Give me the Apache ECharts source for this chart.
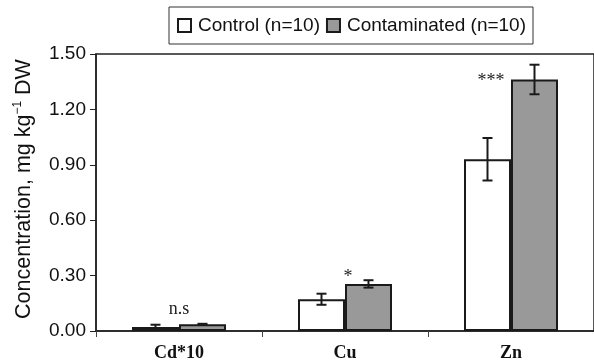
<!DOCTYPE html>
<html>
<head>
<meta charset="utf-8">
<script src="https://cdn.jsdelivr.net/npm/echarts@6/dist/echarts.min.js"></script>
<style>
  html, body { margin: 0; padding: 0; background: #fff; }
  #chart { width: 594px; height: 363px; }
</style>
</head>
<body>
<div id="chart"></div>
<script>
// Data
var categories = ["Cd*10", "Cu", "Zn"];
var controlMean = [0.022, 0.172, 0.93];
var controlErr = [0.012, 0.03, 0.115];
var contamMean = [0.036, 0.255, 1.362];
var contamErr = [0.003, 0.02, 0.08];
var yTicks = [0, 0.3, 0.6, 0.9, 1.2, 1.5];
// significance marks: [category index, y value, text, side]
var marks = [
  [0, 0.12, "n.s", 0],
  [1, 0.29, "*", 0.15],
  [2, 1.35, "***", -1]
];

var BAR_W = 47;
var serif = "'Liberation Serif', 'DejaVu Serif', serif";
var sans = "'Liberation Sans', Arial, sans-serif";

var chartEl = document.getElementById("chart");
var chart = echarts.init(chartEl, null, { renderer: "canvas" });

// error bar renderer, shift = -1 for control, +1 for contaminated
function errorBars(means, errs, shift) {
  return function (params, api) {
    var i = api.value(0);
    var hi = api.coord([i, means[i] + errs[i]]);
    var lo = api.coord([i, means[i] - errs[i]]);
    var x = hi[0] + shift * BAR_W / 2;
    var cap = 5;
    var style = { stroke: "#1a1a1a", lineWidth: 2 };
    return {
      type: "group",
      children: [
        { type: "line", shape: { x1: x, y1: hi[1], x2: x, y2: lo[1] }, style: style },
        { type: "line", shape: { x1: x - cap, y1: hi[1], x2: x + cap, y2: hi[1] }, style: style },
        { type: "line", shape: { x1: x - cap, y1: lo[1], x2: x + cap, y2: lo[1] }, style: style }
      ]
    };
  };
}

chart.setOption({
  animation: false,
  textStyle: { fontFamily: sans },

  grid: {
    left: 96,
    right: -3,
    top: 54,
    bottom: 32,
    show: true,
    borderColor: "#222",
    borderWidth: 1.5
  },

  legend: {
    data: ["Control (n=10)", "Contaminated (n=10)"],
    left: 169,
    top: 7,
    padding: [9, 7, 9, 8],
    itemWidth: 13,
    itemHeight: 13,
    itemGap: 6,
    icon: "rect",
    borderColor: "#333",
    borderWidth: 1,
    textStyle: { fontSize: 19, color: "#111", fontFamily: sans, padding: [0, 0, 0, 2] }
  },

  xAxis: {
    type: "category",
    data: categories,
    axisLine: { lineStyle: { color: "#222", width: 1.5 } },
    axisTick: { show: true, length: 6, lineStyle: { color: "#444" } },
    axisLabel: {
      margin: 13,
      fontFamily: serif,
      fontWeight: "bold",
      fontSize: 18,
      color: "#111"
    }
  },

  yAxis: {
    type: "value",
    min: yTicks[0],
    max: yTicks[yTicks.length - 1],
    interval: 0.3,
    name: "Concentration, mg kg{sup|−1} DW",
    nameLocation: "middle",
    nameGap: 60,
    nameTextStyle: {
      fontSize: 21.5,
      color: "#111",
      fontFamily: sans,
      padding: [0, 0, 0, 7],
      rich: {
        sup: { fontSize: 12, fontFamily: sans, color: "#111", padding: [0, 0, 12, 0] }
      }
    },
    axisLine: { show: true, lineStyle: { color: "#222", width: 1.5 } },
    axisTick: { show: true, length: 6, lineStyle: { color: "#222" } },
    axisLabel: {
      fontSize: 19,
      color: "#111",
      margin: 10,
      formatter: function (v) { return v.toFixed(2); }
    },
    splitLine: { show: false }
  },

  series: [
    {
      name: "Control (n=10)",
      type: "bar",
      barWidth: BAR_W,
      barGap: "0%",
      data: controlMean,
      itemStyle: { color: "#fff", borderColor: "#1a1a1a", borderWidth: 2 }
    },
    {
      name: "Contaminated (n=10)",
      type: "bar",
      barWidth: BAR_W,
      barGap: "0%",
      data: contamMean,
      itemStyle: { color: "#999", borderColor: "#1a1a1a", borderWidth: 2 }
    },
    {
      type: "custom",
      renderItem: errorBars(controlMean, controlErr, -1),
      data: categories.map(function (c, i) { return [i]; }),
      z: 5
    },
    {
      type: "custom",
      renderItem: errorBars(contamMean, contamErr, 1),
      data: categories.map(function (c, i) { return [i]; }),
      z: 5
    },
    {
      type: "custom",
      renderItem: function (params, api) {
        var m = marks[params.dataIndex];
        var p = api.coord([m[0], m[1]]);
        return {
          type: "text",
          x: p[0] + m[3] * 20,
          y: p[1],
          style: {
            text: m[2],
            fontFamily: serif,
            fontSize: 18,
            fill: "#222",
            align: "center",
            verticalAlign: "middle"
          }
        };
      },
      data: marks.map(function (m) { return [m[0], m[1]]; }),
      z: 6
    }
  ]
});

window.addEventListener("resize", function () {
  chart.resize();
});
</script>
</body>
</html>
